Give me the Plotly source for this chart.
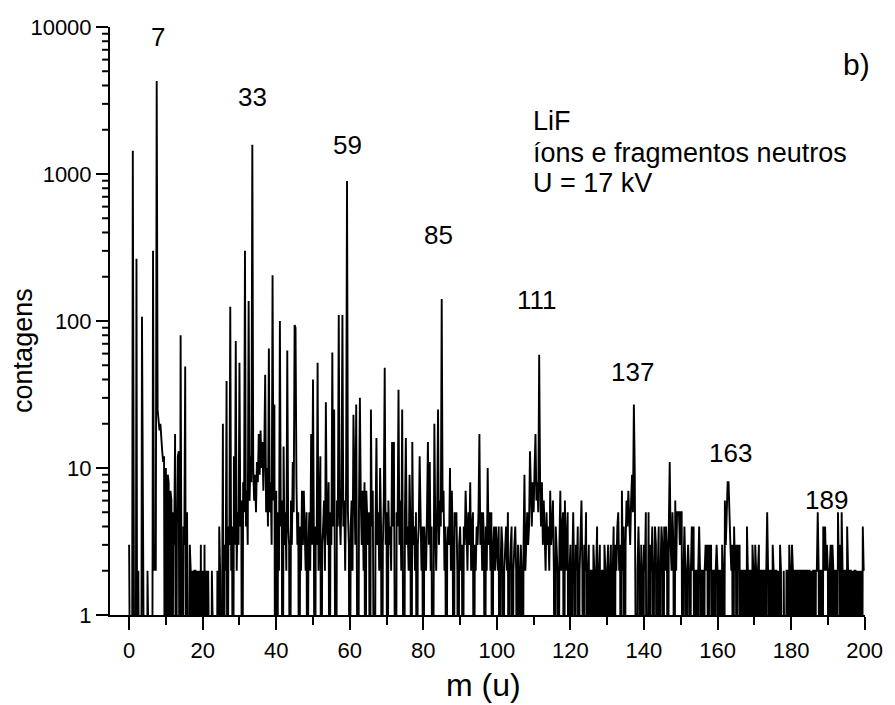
import math
import plotly.graph_objects as go

# ---------------- data: counts per 0.25 u channel, one list per 10 u ----------------
STEP = 0.25
counts_000 = [3, 0, 0, 0, 1440, 0, 0, 0, 265, 0, 2, 0, 0, 0, 107, 0, 0, 0, 0, 0,
              2, 0, 0, 0, 0, 0, 300, 2, 3, 2, 4300, 25, 22, 18, 20, 14, 13, 11, 12, 0]
counts_010 = [10, 0, 9, 8, 0, 7, 6, 0, 5, 3, 17, 0, 4, 12, 13, 0, 80, 2, 0, 4,
              3, 49, 0, 5, 2, 0, 3, 2, 0, 2, 0, 2, 2, 0, 2, 0, 2, 0, 3, 0]
counts_020 = [2, 0, 3, 0, 2, 0, 2, 0, 0, 0, 2, 0, 0, 0, 0, 0, 2, 0, 4, 2,
              0, 3, 20, 0, 3, 2, 39, 0, 4, 3, 125, 2, 4, 0, 12, 3, 73, 2, 5, 3]
counts_030 = [52, 4, 6, 0, 8, 5, 300, 4, 7, 3, 137, 6, 12, 8, 1580, 10, 6, 9, 5, 11,
              8, 17, 9, 18, 10, 15, 7, 13, 43, 5, 10, 4, 65, 5, 8, 3, 205, 6, 27, 0]
counts_040 = [7, 0, 5, 2, 100, 4, 6, 0, 14, 3, 5, 2, 63, 4, 3, 0, 6, 3, 11, 5,
              94, 90, 8, 3, 5, 0, 4, 2, 7, 3, 7, 4, 2, 5, 0, 3, 5, 2, 17, 3]
counts_050 = [40, 3, 0, 4, 3, 52, 2, 5, 12, 0, 3, 4, 6, 2, 28, 4, 3, 8, 0, 5,
              3, 61, 4, 25, 3, 0, 6, 4, 110, 5, 3, 7, 110, 4, 6, 2, 8, 895, 5, 3]
counts_060 = [0, 4, 6, 2, 23, 5, 3, 27, 4, 0, 5, 30, 6, 3, 7, 2, 8, 0, 7, 4,
              3, 5, 0, 25, 4, 7, 2, 0, 4, 16, 3, 5, 2, 10, 4, 0, 3, 6, 48, 3]
counts_070 = [5, 0, 6, 3, 4, 2, 15, 4, 15, 3, 0, 5, 4, 34, 3, 6, 2, 25, 4, 0,
              5, 16, 3, 4, 2, 9, 4, 0, 15, 3, 4, 2, 5, 0, 3, 4, 12, 3, 2, 4]
counts_080 = [0, 4, 3, 2, 5, 15, 3, 11, 2, 4, 0, 3, 20, 4, 2, 5, 25, 3, 6, 4,
              141, 5, 7, 2, 4, 0, 3, 4, 3, 10, 2, 7, 3, 0, 5, 4, 5, 2, 0, 3]
counts_090 = [4, 2, 3, 0, 4, 3, 7, 4, 2, 5, 3, 8, 2, 4, 5, 0, 3, 2, 4, 3,
              5, 17, 3, 5, 2, 5, 3, 0, 4, 2, 10, 3, 5, 2, 5, 0, 3, 4, 2, 4]
counts_100 = [3, 2, 4, 0, 2, 4, 3, 0, 2, 3, 4, 2, 5, 0, 2, 3, 4, 0, 2, 3,
              4, 2, 0, 3, 2, 0, 3, 2, 0, 3, 9, 2, 4, 5, 3, 4, 13, 6, 4, 8]
counts_110 = [5, 10, 17, 6, 8, 5, 59, 8, 4, 8, 3, 6, 4, 2, 5, 3, 4, 2, 7, 3,
              4, 6, 2, 0, 4, 3, 2, 0, 3, 7, 2, 4, 5, 0, 6, 2, 3, 5, 0, 2]
counts_120 = [3, 0, 2, 5, 2, 0, 3, 2, 4, 0, 2, 3, 6, 2, 0, 3, 2, 5, 0, 2,
              3, 0, 2, 2, 0, 3, 2, 0, 2, 4, 0, 2, 3, 0, 2, 2, 0, 3, 2, 0]
counts_130 = [2, 3, 0, 2, 3, 0, 2, 4, 0, 3, 2, 4, 5, 2, 3, 0, 7, 2, 4, 0,
              3, 6, 4, 7, 5, 3, 6, 9, 5, 27, 9, 3, 0, 2, 4, 2, 0, 3, 2, 0]
counts_140 = [3, 2, 5, 0, 2, 5, 0, 3, 2, 4, 0, 2, 4, 3, 0, 2, 4, 0, 2, 4,
              3, 0, 4, 2, 4, 3, 0, 4, 11, 3, 2, 5, 3, 0, 6, 2, 5, 5, 5, 3]
counts_150 = [5, 5, 0, 2, 4, 2, 0, 2, 3, 2, 0, 2, 4, 2, 4, 0, 2, 2, 0, 2,
              4, 2, 0, 2, 2, 0, 2, 3, 2, 3, 0, 3, 2, 3, 0, 2, 2, 0, 2, 3]
counts_160 = [2, 0, 2, 2, 0, 3, 2, 0, 6, 3, 6, 8, 8, 4, 3, 2, 3, 0, 4, 2,
              3, 0, 3, 2, 3, 0, 2, 2, 0, 2, 2, 0, 4, 2, 0, 2, 2, 0, 3, 2]
counts_170 = [0, 3, 2, 0, 2, 3, 0, 2, 2, 0, 2, 2, 0, 2, 5, 2, 0, 2, 2, 0,
              3, 2, 0, 2, 2, 0, 2, 0, 3, 2, 0, 0, 2, 0, 0, 2, 2, 0, 3, 2]
counts_180 = [0, 3, 2, 0, 2, 2, 0, 2, 2, 0, 2, 2, 0, 2, 2, 0, 2, 2, 0, 2,
              2, 0, 2, 0, 2, 2, 0, 2, 2, 5, 2, 0, 2, 2, 0, 4, 2, 4, 2, 3]
counts_190 = [2, 0, 2, 3, 0, 3, 2, 0, 2, 2, 0, 5, 2, 3, 0, 5, 2, 0, 2, 2,
              0, 4, 2, 0, 2, 2, 0, 2, 0, 2, 2, 0, 2, 0, 2, 0, 2, 0, 4, 2]

peak_labels = ["7", "33", "59", "85", "111", "137", "163", "189"]
x_ticks = [0, 20, 40, 60, 80, 100, 120, 140, 160, 180, 200]
y_ticks = [1, 10, 100, 1000, 10000]
info_lines = ["LiF", "íons e fragmentos neutros", "U = 17 kV"]
panel_label = "b)"
x_title = "m (u)"
y_title = "contagens"

# ---------------- build series ----------------
chunk_starts = [0, 10, 20, 30, 40, 50, 60, 70, 80, 90,
                100, 110, 120, 130, 140, 150, 160, 170, 180, 190]
chunks = [counts_000, counts_010, counts_020, counts_030, counts_040,
          counts_050, counts_060, counts_070, counts_080, counts_090,
          counts_100, counts_110, counts_120, counts_130, counts_140,
          counts_150, counts_160, counts_170, counts_180, counts_190]
mass, counts = [], []
for start, ch in zip(chunk_starts, chunks):
    for i, c in enumerate(ch):
        mass.append(start + i * STEP)
        counts.append(c)
# zero counts are drawn below the log axis (clipped), as in the original plot
plot_counts = [c if c > 0 else 0.02 for c in counts]

FONT = "Arial, 'Liberation Sans', Helvetica, sans-serif"

# plot area in pixels
L, R, T, B = 110, 873, 27, 615
W, H = 895, 705
X_RANGE = [-5.2, 200.1]
Y_LOG_RANGE = [0, 4]
MINOR_LEN = 8


def px_x(px):
    return (px - L) / (R - L)


def px_y(py):
    return (B - py) / (B - T)


fig = go.Figure()
fig.add_trace(go.Scatter(x=mass, y=plot_counts, mode="lines",
                         line=dict(color="black", width=1.9),
                         hoverinfo="x+y", showlegend=False))

# minor log ticks on the y axis (2..9 x 10^k): short dashes outside the left
# axis line, placed at the fraction of the log axis range
minor_y = [d * 10 ** k for k in range(4) for d in range(2, 10)]
for v in minor_y:
    yf = (math.log10(v) - Y_LOG_RANGE[0]) / (Y_LOG_RANGE[1] - Y_LOG_RANGE[0])
    fig.add_shape(type="line", xref="paper", yref="paper",
                  x0=-MINOR_LEN / (R - L), x1=0, y0=yf, y1=yf,
                  line=dict(color="black", width=2), layer="above")

# peak label positions (pixel centres)
peak_pos = [(159, 37), (254, 97), (350, 145), (442, 235), (542, 300),
            (638, 372), (737, 453), (834, 500)]
for lab, (px, py) in zip(peak_labels, peak_pos):
    fig.add_annotation(x=px_x(px), y=px_y(py), xref="paper", yref="paper",
                       text=lab, showarrow=False, xanchor="center", yanchor="middle",
                       font=dict(family=FONT, size=26, color="black"))

info_y = [121, 153, 183]
for txt, py in zip(info_lines, info_y):
    fig.add_annotation(x=px_x(535), y=px_y(py), xref="paper", yref="paper",
                       text=txt, showarrow=False, xanchor="left", yanchor="middle",
                       font=dict(family=FONT, size=27, color="black"))

fig.add_annotation(x=px_x(864), y=px_y(64), xref="paper", yref="paper",
                   text=panel_label, showarrow=False, xanchor="center", yanchor="middle",
                   font=dict(family=FONT, size=30, color="black"))

# axis titles
fig.add_annotation(x=px_x(487), y=px_y(685), xref="paper", yref="paper",
                   text=x_title, showarrow=False, xanchor="center", yanchor="middle",
                   font=dict(family=FONT, size=32, color="black"))
fig.add_annotation(x=px_x(22), y=px_y(350), xref="paper", yref="paper",
                   text=y_title, showarrow=False, textangle=-90,
                   xanchor="center", yanchor="middle",
                   font=dict(family=FONT, size=27, color="black"))

fig.update_xaxes(range=X_RANGE, tickmode="array", tickvals=x_ticks,
                 ticktext=[str(v) for v in x_ticks],
                 showline=True, linecolor="black", linewidth=2, mirror=False,
                 ticks="outside", ticklen=13, tickwidth=2, tickcolor="black",
                 minor=dict(ticks="outside", ticklen=8, tickwidth=2, dtick=10,
                            tickcolor="black", showgrid=False),
                 showgrid=False, zeroline=False,
                 tickfont=dict(family=FONT, size=22, color="black"),
                 ticklabelstandoff=2)
fig.update_yaxes(type="log", range=Y_LOG_RANGE, tickmode="array", tickvals=y_ticks,
                 ticktext=[str(v) for v in y_ticks],
                 showline=True, linecolor="black", linewidth=2, mirror=False,
                 ticks="outside", ticklen=12, tickwidth=2, tickcolor="black",
                 showgrid=False, zeroline=False,
                 tickfont=dict(family=FONT, size=22, color="black"),
                 ticklabelstandoff=0)

fig.update_layout(width=W, height=H,
                  margin=dict(l=L, r=W - R, t=T, b=H - B, pad=0),
                  paper_bgcolor="white", plot_bgcolor="white",
                  font=dict(family=FONT, color="black"))

fig.write_html("out.html")
